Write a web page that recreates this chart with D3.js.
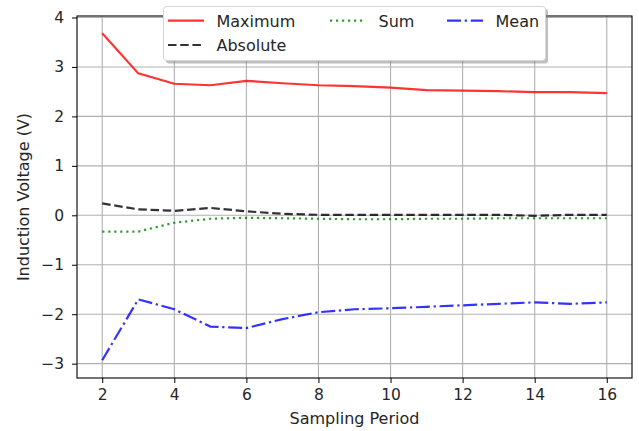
<!DOCTYPE html>
<html><head><meta charset="utf-8">
<script src="https://cdn.jsdelivr.net/npm/d3@7"></script>
<style>body{margin:0;background:#fff}svg{font-family:"DejaVu Sans",sans-serif}</style>
</head><body><svg id="c" width="639" height="431"></svg>
<script>
const periods = [2,3,4,5,6,7,8,9,10,11,12,13,14,15,16];
const maximum = [3.68,2.87,2.66,2.63,2.72,2.67,2.63,2.61,2.58,2.53,2.52,2.51,2.49,2.49,2.47];
const absolute = [0.24,0.12,0.09,0.15,0.08,0.03,0.01,0.01,0.01,0.01,0.01,0.01,-0.01,0.01,0.01];
const sum = [-0.33,-0.33,-0.15,-0.07,-0.05,-0.06,-0.07,-0.08,-0.08,-0.07,-0.07,-0.06,-0.06,-0.06,-0.06];
const mean = [-2.93,-1.7,-1.9,-2.25,-2.28,-2.1,-1.96,-1.9,-1.88,-1.85,-1.82,-1.79,-1.76,-1.79,-1.76];
const xTicks = [2,4,6,8,10,12,14,16];
const yTicks = [-3,-2,-1,0,1,2,3,4];
const seriesNames = ["Maximum","Absolute","Sum","Mean"];

const series = [
  {name:seriesNames[0], values:maximum, color:"#ff0000", dash:null},
  {name:seriesNames[1], values:absolute, color:"#000000", dash:"8.5,3.7"},
  {name:seriesNames[2], values:sum, color:"#008000", dash:"2.2,3.8"},
  {name:seriesNames[3], values:mean, color:"#0000ff", dash:"14,3.7,2.3,3.7"}
];

const L=77, R=632, T=16, B=378;
const x = d3.scaleLinear().domain([1.3,16.7]).range([L,R]);
const y = d3.scaleLinear().domain([-3.29,4.03]).range([B,T]);
const svg = d3.select("#c");

// grid
svg.append("g").selectAll("line").data(xTicks).join("line")
  .attr("x1",d=>x(d)).attr("x2",d=>x(d)).attr("y1",T).attr("y2",B)
  .attr("stroke","#b0b0b0").attr("stroke-width",1.1);
svg.append("g").selectAll("line").data(yTicks).join("line")
  .attr("y1",d=>y(d)).attr("y2",d=>y(d)).attr("x1",L).attr("x2",R)
  .attr("stroke","#b0b0b0").attr("stroke-width",1.1);

// lines
const line = d3.line().x((d,i)=>x(periods[i])).y(d=>y(d));
series.forEach(s=>{
  svg.append("path").attr("d",line(s.values)).attr("fill","none")
    .attr("stroke",s.color).attr("stroke-opacity",0.8).attr("stroke-width",2.2)
    .attr("stroke-dasharray",s.dash);
});

// frame
svg.append("rect").attr("x",L).attr("y",T).attr("width",R-L).attr("height",B-T)
  .attr("fill","none").attr("stroke","#000").attr("stroke-width",1.1);

// axes
const xa = svg.append("g").attr("transform",`translate(0,${B})`)
  .call(d3.axisBottom(x).tickValues(xTicks).tickSize(5).tickPadding(6).tickFormat(d3.format("d")));
const ya = svg.append("g").attr("transform",`translate(${L},0)`)
  .call(d3.axisLeft(y).tickValues(yTicks).tickSize(5).tickPadding(8).tickFormat(d=>d<0?"\u2212"+Math.abs(d):d));
[xa,ya].forEach(a=>{
  a.select(".domain").remove();
  a.selectAll("text").attr("font-size",15.5).attr("font-family","DejaVu Sans").attr("fill","#262626");
  a.selectAll("line").attr("stroke","#000").attr("stroke-width",1);
});

svg.append("text").attr("x",(L+R)/2).attr("y",423.5).attr("text-anchor","middle")
  .attr("font-size",16).attr("fill","#262626").text("Sampling Period");
svg.append("text").attr("transform",`translate(28.5,${(T+B)/2}) rotate(-90)`).attr("text-anchor","middle")
  .attr("font-size",16).attr("fill","#262626").text("Induction Voltage (V)");

// legend
const lg = svg.append("g");
lg.append("rect").attr("x",166).attr("y",9).attr("width",382).attr("height",54.5).attr("rx",3)
  .attr("fill","#808080").attr("opacity",0.5);
lg.append("rect").attr("x",163.5).attr("y",6.5).attr("width",382).attr("height",54).attr("rx",3)
  .attr("fill","#fff").attr("stroke","#d6d6d6").attr("stroke-width",1);
const pos = {
  "Maximum":[168,20.7], "Absolute":[168,45], "Sum":[330,20.7], "Mean":[447,20.7]
};
series.forEach(s=>{
  const [px,py] = pos[s.name];
  lg.append("line").attr("x1",px).attr("x2",px+36).attr("y1",py).attr("y2",py)
    .attr("stroke",s.color).attr("stroke-opacity",0.8).attr("stroke-width",2.2).attr("stroke-dasharray",s.dash);
  lg.append("text").attr("x",px+48.5).attr("y",py+6).attr("font-size",16).attr("fill","#262626").text(s.name);
});
</script></body></html>
